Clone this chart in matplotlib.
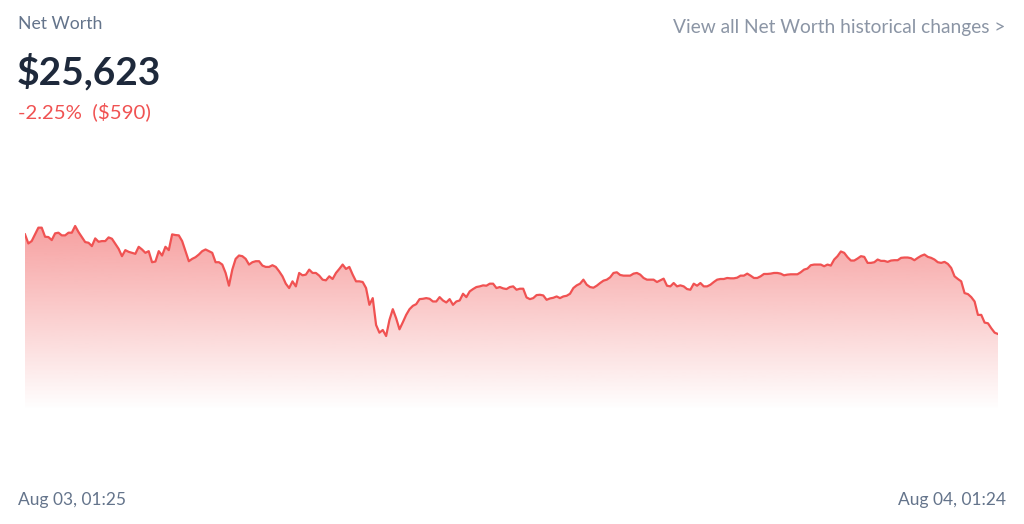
import numpy as np
import matplotlib
matplotlib.use("Agg")
import matplotlib.pyplot as plt
from matplotlib.colors import to_rgb

# ---- data (5-minute samples over 24h) ----
seg1 = [26217, 26163, 26177, 26217, 26257, 26257, 26203, 26201, 26183, 26223,
        26227, 26211, 26211, 26227, 26227, 26267, 26231, 26201, 26171, 26167,
        26147, 26193, 26173, 26177, 26177, 26199, 26191, 26161, 26131, 26087,
        26123, 26113, 26107, 26101, 26143, 26127, 26107, 26117, 26051, 26055,
        26117, 26091, 26143, 26123, 26217, 26213, 26211, 26177, 26117, 26057,
        26071, 26081, 26097, 26117, 26127, 26117, 26107, 26051, 26051, 26037,
        25987, 25911, 26007, 26071, 26091, 26087, 26071, 26037, 26051]
seg2 = [26057, 26057, 26031, 26023, 26023, 26033, 26023, 25997, 25967, 25923,
        25897, 25937, 25907, 25987, 25973, 25977, 26007, 25987, 25987, 25971,
        25947, 25943, 25967, 25951, 25987, 26011, 26037, 26011, 26023, 25977,
        25937, 25937, 25933, 25897, 25797, 25837, 25677, 25631, 25647, 25611,
        25707, 25771, 25717, 25651, 25693, 25737, 25771, 25791, 25801, 25831,
        25833, 25837, 25833, 25817, 25817, 25843, 25823, 25811, 25831, 25797,
        25817, 25823, 25863, 25843, 25877, 25891, 25903, 25907, 25913, 25911,
        25923, 25923]
seg3 = [25897, 25903, 25895, 25891, 25903, 25907, 25887, 25893, 25893, 25841,
        25831, 25837, 25855, 25857, 25853, 25827, 25835, 25839, 25847, 25837,
        25847, 25851, 25863, 25897, 25913, 25923, 25947, 25917, 25903, 25899,
        25911, 25927, 25941, 25947, 25961, 25987, 25991, 25975, 25971, 25971,
        25971, 25983, 25987, 25977, 25957, 25947, 25947, 25947, 25933, 25943,
        25953, 25911, 25907, 25927, 25907, 25913, 25907, 25891, 25887, 25923,
        25911, 25927, 25907, 25907, 25917, 25933, 25947, 25951, 25951, 25957,
        25955, 25955, 25959]
seg4 = [25971, 25971, 25983, 25971, 25957, 25957, 25967, 25981, 25981, 25983,
        25987, 25987, 25983, 25973, 25977, 25979, 25979, 25979, 25991, 26007,
        26013, 26033, 26037, 26037, 26037, 26027, 26037, 26031, 26067, 26087,
        26115, 26107, 26081, 26061, 26061, 26073, 26087, 26083, 26047, 26047,
        26051, 26067, 26059, 26059, 26053, 26061, 26063, 26063, 26077, 26079,
        26079, 26075, 26063, 26077, 26089, 26097, 26083, 26077, 26067, 26051,
        26047, 26053, 26041, 26017, 25967, 25951, 25937, 25867, 25861, 25843,
        25817, 25737, 25737, 25691, 25687, 25657, 25631, 25623]
values = seg1 + seg2 + seg3 + seg4

title_label = "Net Worth"
current_value = "$25,623"
change_label = "-2.25%  ($590)"
link_label = "View all Net Worth historical changes >"
start_label = "Aug 03, 01:25"
end_label = "Aug 04, 01:24"

# ---- styling ----
W, H = 1024, 524
RED = "#f05252"
GRAY = "#64748b"
LIGHT_GRAY = "#8b95a5"
NAVY = "#1e293b"
FONT = ["Lato", "DejaVu Sans"]

fig = plt.figure(figsize=(W / 100, H / 100), dpi=100)
fig.patch.set_facecolor("white")

def px(x, y):
    return x / W, 1 - y / H

# axes: pixel x 25..998, pixel y 150..410
ax = fig.add_axes([25 / W, (H - 410) / H, 973 / W, 260 / H])
ax.set_axis_off()
x = np.arange(len(values))
y = np.array(values, dtype=float)
ylo, yhi = 25170, 26720
ax.set_xlim(0, len(values) - 1)
ax.set_ylim(ylo, yhi)

# gradient fill
poly = ax.fill_between(x, y, ylo, color="none", lw=0)
rgb = np.array(to_rgb(RED))
n = 256
ys = np.linspace(yhi, ylo, n)
top_v = 26270.0
alpha = np.clip((ys - ylo) / (top_v - ylo), 0, 1.2) * 0.55
img = np.zeros((n, 1, 4))
img[:, 0, :3] = rgb
img[:, 0, 3] = np.clip(alpha, 0, 1)
im = ax.imshow(img, aspect="auto", extent=[0, len(values) - 1, ylo, yhi],
               origin="upper", interpolation="bilinear", zorder=1)
path = poly.get_paths()[0]
im.set_clip_path(path, transform=ax.transData)
ax.plot(x, y, color=RED, lw=1.6, zorder=2, solid_joinstyle="round")

# ---- texts ----
fig.text(*px(18, 29), title_label, color=GRAY, fontsize=12.7, family=FONT, va="baseline")
fig.text(*px(17, 84), current_value, color=NAVY, fontsize=28, family=FONT,
         fontweight="bold", va="baseline")
fig.text(*px(18, 118), change_label, color=RED, fontsize=14.7, family=FONT, va="baseline")
fig.text(*px(1005, 33), link_label, color=LIGHT_GRAY, fontsize=13.8, family=FONT,
         va="baseline", ha="right")
fig.text(*px(18, 505), start_label, color=GRAY, fontsize=12.5, family=FONT, va="baseline")
fig.text(*px(1006, 505), end_label, color=GRAY, fontsize=12.5, family=FONT,
         va="baseline", ha="right")

fig.savefig("out.png", dpi=100, facecolor="white")
